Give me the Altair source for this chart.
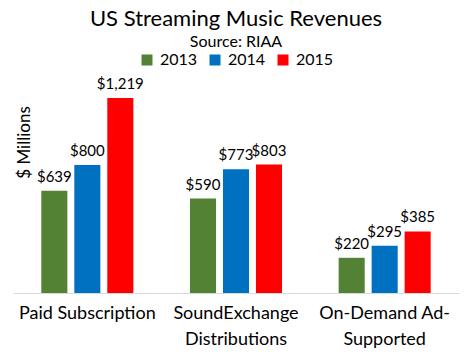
import altair as alt
import pandas as pd

categories = ["Paid Subscription", "SoundExchange\nDistributions", "On-Demand Ad-\nSupported"]
years = ["2013", "2014", "2015"]
values = {
    "2013": [639, 590, 220],
    "2014": [800, 773, 295],
    "2015": [1219, 803, 385],
}
colors = ["#548235", "#0070C0", "#FF0000"]

rows = []
for y in years:
    for c, v in zip(categories, values[y]):
        rows.append({"category": c, "year": y, "value": v})
df = pd.DataFrame(rows)

FONT = "Lato"

x = alt.X("category:N", sort=categories,
          scale=alt.Scale(paddingInner=0, paddingOuter=0),
          axis=alt.Axis(title=None, labelAngle=0, ticks=False, domainColor="#d9d9d9",
                        domainWidth=1, labelFontSize=18, labelFont=FONT, labelColor="#000000",
                        labelPadding=11, labelLineHeight=26,
                        labelExpr="split(datum.label, '\\n')"))
xoff = alt.XOffset("year:N", sort=years,
                   scale=alt.Scale(paddingInner=0.21, paddingOuter=0.858))
y = alt.Y("value:Q", scale=alt.Scale(domain=[0, 1400]),
          axis=alt.Axis(labels=False, ticks=False, domain=False, grid=False,
                        title="$ Millions", titleFont=FONT, titleFontSize=17,
                        titleFontWeight="normal", titleColor="#000000",
                        titleAngle=270, titleX=11, titleY=73, titleAlign="center",
                        titleBaseline="middle"))

bars = alt.Chart(df).mark_bar().encode(
    x=x, xOffset=xoff, y=y,
    color=alt.Color("year:N", sort=years,
                    scale=alt.Scale(domain=years, range=colors),
                    legend=alt.Legend(title=None, orient="none", legendX=126, legendY=-17,
                                      direction="horizontal", symbolType="square",
                                      symbolSize=121, symbolStrokeWidth=0,
                                      labelFont=FONT, labelFontSize=16, labelColor="#000000",
                                      labelOffset=5, columnPadding=9)),
)

labels = alt.Chart(df).mark_text(baseline="bottom", dy=-6, font=FONT, fontSize=15,
                                 color="#000000").encode(
    x=x, xOffset=xoff, y=y,
    text=alt.Text("value:Q", format="$,.0f"),
)

chart = alt.layer(bars, labels).properties(
    width=446, height=224,
    title=alt.TitleParams("US Streaming Music Revenues", subtitle="Source: RIAA",
                          font=FONT, fontSize=22, fontWeight=400, color="#000000",
                          subtitleFont=FONT, subtitleFontSize=16, subtitleColor="#000000",
                          anchor="middle", offset=1, subtitlePadding=3),
    autosize=alt.AutoSizeParams(type="none"),
    padding={"left": 5, "top": 61, "right": 1, "bottom": 55},
).configure_view(stroke=None)

chart.save("out.html", embed_options={"renderer": "svg", "actions": False})
